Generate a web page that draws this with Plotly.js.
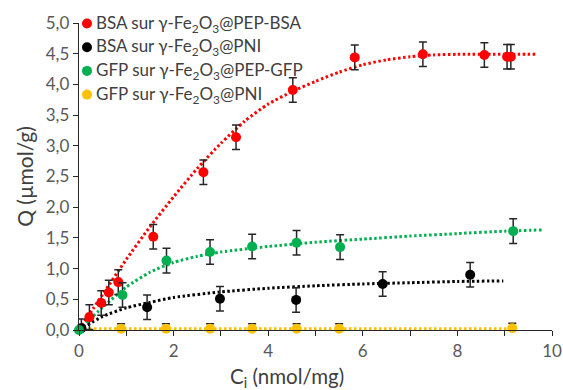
<!DOCTYPE html>
<html><head><meta charset="utf-8">
<script src="https://cdn.plot.ly/plotly-3.0.1.min.js"></script>
<style>html,body{margin:0;padding:0;background:#fff}#chart{width:563px;height:390px}</style>
</head><body><div id="chart"></div>
<script>
// Series names
const names = [
  'BSA sur γ-Fe<sub>2</sub>O<sub>3</sub>@PEP-BSA',
  'BSA sur γ-Fe<sub>2</sub>O<sub>3</sub>@PNI',
  'GFP sur γ-Fe<sub>2</sub>O<sub>3</sub>@PEP-GFP',
  'GFP sur γ-Fe<sub>2</sub>O<sub>3</sub>@PNI'
];
const colors = ['#ff0000', '#000000', '#00b050', '#ffc000'];

// Measured points
const redX = [0.22, 0.47, 0.63, 0.83, 1.57, 2.63, 3.32, 4.52, 5.83, 7.27, 8.57, 9.05, 9.13];
const redY = [0.21, 0.44, 0.61, 0.78, 1.52, 2.57, 3.14, 3.91, 4.44, 4.49, 4.48, 4.45, 4.45];
const redErr = [0.2, 0.2, 0.2, 0.2, 0.2, 0.2, 0.2, 0.2, 0.2, 0.2, 0.2, 0.2, 0.2];

const blackX = [0.05, 1.44, 2.98, 4.59, 6.42, 8.27];
const blackY = [0.03, 0.37, 0.51, 0.49, 0.75, 0.90];
const blackErr = [0.15, 0.2, 0.2, 0.2, 0.2, 0.2];

const greenX = [0, 0.92, 1.85, 2.77, 3.66, 4.6, 5.52, 9.18];
const greenY = [0, 0.57, 1.13, 1.27, 1.36, 1.42, 1.35, 1.61];
const greenErr = [0, 0.2, 0.2, 0.2, 0.2, 0.2, 0.2, 0.2];

const yellowX = [0.89, 1.84, 2.77, 3.66, 4.6, 5.5, 9.16];
const yellowY = [0.02, 0.02, 0.02, 0.02, 0.02, 0.02, 0.03];
const yellowErr = [0.08, 0.08, 0.08, 0.08, 0.08, 0.08, 0.08];

// Fitted curves
const redFitX = [0, 0.5, 1, 1.5, 2, 2.5, 3, 3.5, 4, 4.5, 5, 5.5, 6, 6.5, 7, 7.5, 8, 9, 9.68];
const redFitY = [0, 0.58, 1.15, 1.68, 2.17, 2.63, 3.04, 3.40, 3.68, 3.88, 4.05, 4.2, 4.32, 4.4, 4.45, 4.48, 4.49, 4.49, 4.49];
const blackFitX = [0, 0.5, 1, 1.5, 2, 3, 4, 5, 6, 7, 8, 8.97];
const blackFitY = [0, 0.22, 0.36, 0.45, 0.53, 0.62, 0.68, 0.72, 0.75, 0.77, 0.79, 0.80];
const greenFitX = [0, 0.5, 1, 1.5, 2, 2.5, 3, 4, 5, 6, 7, 8, 9, 9.78];
const greenFitY = [0, 0.37, 0.70, 0.94, 1.10, 1.20, 1.27, 1.36, 1.43, 1.48, 1.53, 1.57, 1.61, 1.63];
const yellowFitX = [0, 9.04];
const yellowFitY = [0.02, 0.02];

const xTitle = 'C<sub>i</sub> (nmol/mg)';
const yTitle = 'Q (µmol/g)';

const FONT = 'Lato, "Open Sans", sans-serif';

function fit(x, y, c) {
  return {x: x, y: y, mode: 'lines', type: 'scatter', showlegend: false, cliponaxis: false,
    line: {color: c, width: 3, dash: '2.5px,2.5px', shape: 'spline', smoothing: 0.6}, hoverinfo: 'skip'};
}
function pts(x, y, e, c, n) {
  return {x: x, y: y, mode: 'markers', type: 'scatter', name: n, showlegend: false, cliponaxis: false,
    marker: {color: c, size: 10},
    error_y: {type: 'data', array: e, visible: true, color: '#262626', thickness: 1.5, width: 4}};
}

const data = [
  fit(yellowFitX, yellowFitY, colors[3]),
  fit(blackFitX, blackFitY, colors[1]),
  fit(greenFitX, greenFitY, colors[2]),
  fit(redFitX, redFitY, colors[0]),
  pts(yellowX, yellowY, yellowErr, colors[3], names[3]),
  pts(blackX, blackY, blackErr, colors[1], names[1]),
  pts(redX, redY, redErr, colors[0], names[0]),
  pts(greenX, greenY, greenErr, colors[2], names[2])
];

// custom legend: marker circles + text
const legendTop = 23.5, legendStep = 23.7;
const W = 563, H = 390, mL = 79, mR = 11, mT = 23, mB = 60;
const pw = W - mL - mR, ph = H - mT - mB;
const shapes = [], annotations = [];
for (let i = 0; i < 4; i++) {
  const cy = legendTop + i * legendStep;
  const cx = 87;
  const fx = (cx - mL) / pw, fy = (H - mB - cy) / ph;
  const r = 5;
  shapes.push({type: 'circle', xref: 'paper', yref: 'paper',
    x0: fx - r / pw, x1: fx + r / pw, y0: fy - r / ph, y1: fy + r / ph,
    fillcolor: colors[i], line: {width: 0}});
  annotations.push({xref: 'paper', yref: 'paper', x: (94 - mL) / pw, y: fy, xanchor: 'left', yanchor: 'middle',
    text: names[i], showarrow: false, font: {family: FONT, size: 17, color: '#404040'}});
}
annotations.push({xref: 'paper', yref: 'paper', x: (287 - mL) / pw, y: (H - mB - 377) / ph,
  xanchor: 'center', yanchor: 'middle', text: xTitle, showarrow: false,
  font: {family: FONT, size: 20.5, color: '#404040'}});

const layout = {
  width: W, height: H,
  margin: {l: mL, r: mR, t: mT, b: mB},
  paper_bgcolor: '#fff', plot_bgcolor: '#fff',
  separators: ', ',
  showlegend: false,
  font: {family: FONT, size: 16, color: '#595959'},
  xaxis: {range: [0, 10], dtick: 2, tick0: 0, ticks: 'outside', ticklen: 5, tickwidth: 1, tickcolor: '#262626',
    showline: true, linecolor: '#262626', linewidth: 1.3, showgrid: false, zeroline: false,
    minor: {dtick: 1, ticks: 'outside', ticklen: 5, tickcolor: '#262626', showgrid: false},
    tickfont: {family: FONT, size: 17, color: '#595959'}},
  yaxis: {range: [0, 5], dtick: 0.5, tick0: 0, tickformat: '.1f', ticks: 'outside', ticklen: 5, tickwidth: 1,
    tickcolor: '#262626', showline: true, linecolor: '#262626', linewidth: 1.3, showgrid: false, zeroline: false,
    tickfont: {family: FONT, size: 17, color: '#595959'},
    title: {text: yTitle, font: {family: FONT, size: 21, color: '#404040'}, standoff: 6}},
  shapes: shapes,
  annotations: annotations
};
Plotly.newPlot('chart', data, layout, {staticPlot: true});
</script></body></html>
